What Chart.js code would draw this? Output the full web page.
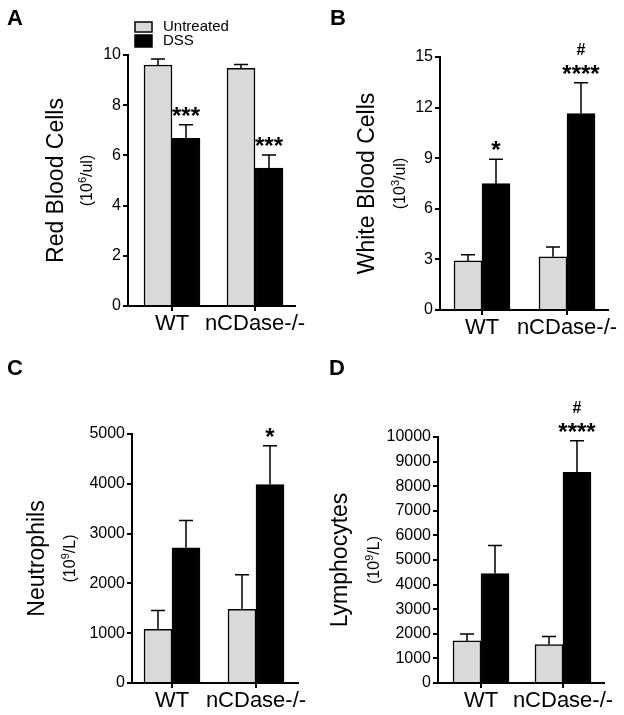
<!DOCTYPE html>
<html>
<head>
<meta charset="utf-8">
<script src="https://cdn.jsdelivr.net/npm/chart.js@4.4.0/dist/chart.umd.min.js"></script>
<style>
  body { margin: 0; background: #fff; }
  #wrap { position: relative; width: 624px; height: 715px; }
  .panel { position: absolute; }
</style>
</head>
<body>
<div id="wrap">
  <div class="panel" style="left:0;top:0"><canvas id="chartA" width="312" height="357"></canvas></div>
  <div class="panel" style="left:312px;top:0"><canvas id="chartB" width="312" height="357"></canvas></div>
  <div class="panel" style="left:0;top:357px"><canvas id="chartC" width="312" height="358"></canvas></div>
  <div class="panel" style="left:312px;top:357px"><canvas id="chartD" width="312" height="358"></canvas></div>
</div>
<script>
const categories = ['WT', 'nCDase-/-'];
const seriesNames = ['Untreated', 'DSS'];

// A - red blood cells (10^6/ul)
const rbcTicks = [0, 2, 4, 6, 8, 10];
const rbcUntreated = [9.6, 9.47];
const rbcUntreatedErr = [0.24, 0.15];
const rbcDss = [6.68, 5.49];
const rbcDssErr = [0.54, 0.53];
const rbcStars = ['***', '***'];
const rbcHash = ['', ''];

// B - white blood cells (10^3/ul)
const wbcTicks = [0, 3, 6, 9, 12, 15];
const wbcUntreated = [2.91, 3.15];
const wbcUntreatedErr = [0.36, 0.59];
const wbcDss = [7.49, 11.65];
const wbcDssErr = [1.45, 1.82];
const wbcStars = ['*', '****'];
const wbcHash = ['', '#'];

// C - neutrophils (10^9/L)
const neuTicks = [0, 1000, 2000, 3000, 4000, 5000];
const neuUntreated = [1076, 1477];
const neuUntreatedErr = [381, 695];
const neuDss = [2714, 3984];
const neuDssErr = [548, 782];
const neuStars = ['', '*'];
const neuHash = ['', ''];

// D - lymphocytes (10^9/L)
const lymTicks = [0, 1000, 2000, 3000, 4000, 5000, 6000, 7000, 8000, 9000, 10000];
const lymUntreated = [1710, 1560];
const lymUntreatedErr = [285, 326];
const lymDss = [4450, 8562];
const lymDssErr = [1140, 1289];
const lymStars = ['', '****'];
const lymHash = ['', '#'];

const FONT = 'Arial, "Liberation Sans", Helvetica, sans-serif';
Chart.defaults.font.family = FONT;
Chart.defaults.color = '#000';

const panels = [
    {
        id: 'chartA', letter: 'A', letterPos: [7, 25], legend: true,
        ticks: rbcTicks, untreated: rbcUntreated, untreatedErr: rbcUntreatedErr,
        dss: rbcDss, dssErr: rbcDssErr, stars: rbcStars, hash: rbcHash,
        title: 'Red Blood Cells', unit: ['(10', '6', '/ul)'], titleX: 57, unitX: 88,
        area: { left: 128, top: 55, right: 295, bottom: 306 }, tickPx: [172, 255]
    },
    {
        id: 'chartB', letter: 'B', letterPos: [18, 25], legend: false,
        ticks: wbcTicks, untreated: wbcUntreated, untreatedErr: wbcUntreatedErr,
        dss: wbcDss, dssErr: wbcDssErr, stars: wbcStars, hash: wbcHash,
        title: 'White Blood Cells', unit: ['(10', '3', '/ul)'], titleX: 56, unitX: 89,
        area: { left: 128, top: 57, right: 296, bottom: 310 }, tickPx: [170, 255]
    },
    {
        id: 'chartC', letter: 'C', letterPos: [7, 18], legend: false,
        ticks: neuTicks, untreated: neuUntreated, untreatedErr: neuUntreatedErr,
        dss: neuDss, dssErr: neuDssErr, stars: neuStars, hash: neuHash,
        title: 'Neutrophils', unit: ['(10', '9', '/L)'], titleX: 38, unitX: 71,
        area: { left: 132, top: 77, right: 298, bottom: 326 }, tickPx: [172, 256]
    },
    {
        id: 'chartD', letter: 'D', letterPos: [17, 18], legend: false,
        ticks: lymTicks, untreated: lymUntreated, untreatedErr: lymUntreatedErr,
        dss: lymDss, dssErr: lymDssErr, stars: lymStars, hash: lymHash,
        title: 'Lymphocytes', unit: ['(10', '9', '/L)'], titleX: 29, unitX: 63,
        area: { left: 126, top: 80, right: 292, bottom: 326 }, tickPx: [169, 251]
    }
];

function drawRotatedUnit(ctx, parts, x, y) {
    ctx.save();
    ctx.translate(x, y);
    ctx.rotate(-Math.PI / 2);
    ctx.textBaseline = 'middle';
    ctx.textAlign = 'left';
    ctx.font = '16px ' + FONT;
    const w0 = ctx.measureText(parts[0]).width;
    const w2 = ctx.measureText(parts[2]).width;
    ctx.font = '11px ' + FONT;
    const w1 = ctx.measureText(parts[1]).width;
    let start = -(w0 + w1 + w2) / 2;
    ctx.font = '16px ' + FONT;
    ctx.fillText(parts[0], start, 0);
    ctx.font = '11px ' + FONT;
    ctx.fillText(parts[1], start + w0, -5);
    ctx.font = '16px ' + FONT;
    ctx.fillText(parts[2], start + w0 + w1, 0);
    ctx.restore();
}

function makePanel(p) {
    const canvas = document.getElementById(p.id);
    const W = canvas.width, H = canvas.height;
    const step = p.tickPx[1] - p.tickPx[0];
    const xMin = 1 - (p.tickPx[0] - p.area.left) / step;
    const xMax = 2 + (p.area.right - p.tickPx[1]) / step;
    const errs = [p.untreatedErr, p.dssErr];

    const extras = {
        id: 'extras',
        afterDatasetsDraw(chart) {
            const ctx = chart.ctx;
            const y = chart.scales.y;
            ctx.save();
            ctx.strokeStyle = '#000';
            ctx.lineWidth = 1.5;
            chart.data.datasets.forEach((ds, di) => {
                chart.getDatasetMeta(di).data.forEach((bar, i) => {
                    const top = y.getPixelForValue(ds.data[i].y);
                    const errTop = y.getPixelForValue(ds.data[i].y + errs[di][i]);
                    ctx.beginPath();
                    ctx.moveTo(bar.x, top);
                    ctx.lineTo(bar.x, errTop);
                    ctx.moveTo(bar.x - 7, errTop);
                    ctx.lineTo(bar.x + 7, errTop);
                    ctx.stroke();
                });
            });
            ctx.restore();
        },
        afterDraw(chart) {
            const ctx = chart.ctx;
            const y = chart.scales.y;
            const area = chart.chartArea;
            ctx.save();
            ctx.fillStyle = '#000';

            // significance marks over DSS bars
            const dssMeta = chart.getDatasetMeta(1);
            ctx.textAlign = 'center';
            ctx.textBaseline = 'alphabetic';
            dssMeta.data.forEach((bar, i) => {
                const errTop = y.getPixelForValue(p.dss[i] + p.dssErr[i]);
                if (p.stars[i]) {
                    ctx.font = 'bold 24px ' + FONT;
                    ctx.fillText(p.stars[i], bar.x, errTop - 1);
                }
                if (p.hash[i]) {
                    ctx.font = 'bold 16px ' + FONT;
                    ctx.fillText(p.hash[i], bar.x, errTop - 28);
                }
            });

            // panel letter
            ctx.textAlign = 'left';
            ctx.font = 'bold 22px ' + FONT;
            ctx.fillText(p.letter, p.letterPos[0], p.letterPos[1]);

            // y titles
            const midY = (area.top + area.bottom) / 2;
            ctx.save();
            ctx.translate(p.titleX, midY);
            ctx.rotate(-Math.PI / 2);
            ctx.textAlign = 'center';
            ctx.textBaseline = 'middle';
            ctx.font = '23px ' + FONT;
            ctx.fillText(p.title, 0, 0);
            ctx.restore();
            drawRotatedUnit(ctx, p.unit, p.unitX, midY);

            // legend
            if (p.legend) {
                const rows = [[22, 32], [35, 47]];
                chart.data.datasets.forEach((ds, di) => {
                    const r = rows[di];
                    ctx.fillStyle = ds.backgroundColor;
                    ctx.fillRect(135, r[0], 17, r[1] - r[0]);
                    ctx.strokeStyle = '#000';
                    ctx.lineWidth = 1.5;
                    ctx.strokeRect(135, r[0], 17, r[1] - r[0]);
                    ctx.fillStyle = '#000';
                    ctx.font = '15px ' + FONT;
                    ctx.textAlign = 'left';
                    ctx.textBaseline = 'middle';
                    ctx.fillText(ds.label, 163, (r[0] + r[1]) / 2);
                });
            }
            ctx.restore();
        }
    };

    return new Chart(canvas, {
        type: 'bar',
        data: {
            datasets: [
                {
                    label: seriesNames[0],
                    data: categories.map((c, i) => ({ x: i + 1, y: p.untreated[i] })),
                    backgroundColor: '#d9d9d9', borderColor: '#000', borderWidth: 1.5,
                    barThickness: 28
                },
                {
                    label: seriesNames[1],
                    data: categories.map((c, i) => ({ x: i + 1, y: p.dss[i] })),
                    backgroundColor: '#000', borderColor: '#000', borderWidth: 1.5,
                    barThickness: 28
                }
            ]
        },
        options: {
            responsive: false,
            animation: false,
            devicePixelRatio: 1,
            layout: { padding: { left: 0, top: p.area.top, right: W - p.area.right, bottom: 0 } },
            plugins: { legend: { display: false }, tooltip: { enabled: false } },
            scales: {
                x: {
                    type: 'linear',
                    min: xMin,
                    max: xMax,
                    offset: false,
                    afterBuildTicks: s => { s.ticks = categories.map((c, i) => ({ value: i + 1 })); },
                    afterFit: s => { s.height = H - p.area.bottom; s.paddingLeft = 0; s.paddingRight = 0; },
                    grid: { offset: false, drawOnChartArea: false, drawTicks: true, tickLength: 5, color: '#000', lineWidth: 2 },
                    border: { color: '#000', width: 2 },
                    ticks: {
                        font: { size: 22 },
                        padding: 0,
                        maxRotation: 0,
                        autoSkip: false,
                        callback: v => categories[Math.round(v) - 1]
                    }
                },
                y: {
                    min: p.ticks[0],
                    max: p.ticks[p.ticks.length - 1],
                    afterBuildTicks: s => { s.ticks = p.ticks.map(v => ({ value: v })); },
                    afterFit: s => { s.width = p.area.left; s.paddingTop = 0; s.paddingBottom = 0; },
                    grid: { drawOnChartArea: false, drawTicks: true, tickLength: 5, color: '#000', lineWidth: 2 },
                    border: { color: '#000', width: 2 },
                    ticks: {
                        font: { size: 16 },
                        padding: 2,
                        callback: v => String(v)
                    }
                }
            }
        },
        plugins: [extras]
    });
}

panels.forEach(makePanel);
</script>
</body>
</html>
